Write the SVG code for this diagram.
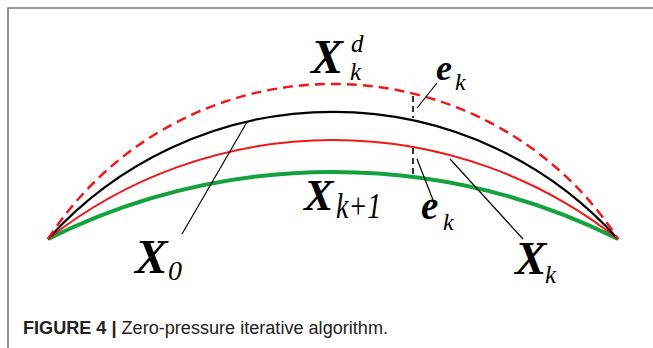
<svg xmlns="http://www.w3.org/2000/svg" width="653" height="348" viewBox="0 0 653 348">
<style>
.frame{stroke:#777;stroke-width:1.6;fill:none}
.curve{fill:none}
.lead{stroke:#000;stroke-width:1.2;fill:none}
.vdash{stroke:#000;stroke-width:1.6;stroke-dasharray:6 4;fill:none}
.bx{font-family:"Liberation Serif","Times New Roman",serif;font-weight:bold;font-style:italic;fill:#000}
.it{font-family:"Liberation Serif","Times New Roman",serif;font-style:italic;fill:#000}
.cap{font-family:"Liberation Sans",Arial,sans-serif;font-size:18px;fill:#222}
</style>
<rect width="653" height="348" fill="#fff"/>
<path class="frame" d="M8,348 V8 H653"/>
<g id="curves">
  <path id="green" class="curve" d="M48,239 A639.6,639.6 0 0 1 618,239" stroke="#13a23e" stroke-width="4"/>
  <path id="red" class="curve" d="M48,239 A459.7,459.7 0 0 1 618,239" stroke="#f01818" stroke-width="2"/>
  <path id="black" class="curve" d="M48,239 A383,383 0 0 1 618,239" stroke="#000" stroke-width="2.2"/>
  <path id="reddash" class="curve" d="M48,239 A339.5,339.5 0 0 1 618,239" stroke="#f01818" stroke-width="2.5" stroke-dasharray="10 6"/>
</g>
<g id="connectors">
  <path class="vdash" d="M413,96 V118"/>
  <path class="vdash" d="M413,148 V176"/>
  <path class="lead" d="M417,108 L437,83"/>
  <path class="lead" d="M417,159 L433,200"/>
  <path class="lead" d="M450,159 L523,239"/>
  <path class="lead" d="M247,122 L182,234"/>
</g>
<g id="label-xkd">
  <text class="bx" x="311" y="73" font-size="48">X</text>
  <text class="it" x="350" y="80" font-size="25">k</text>
  <text class="it" x="351" y="52" font-size="25">d</text>
</g>
<g id="label-ek-top">
  <text class="bx" x="436" y="80" font-size="36">e</text>
  <text class="it" x="455" y="90" font-size="24">k</text>
</g>
<g id="label-ek-bottom">
  <text class="bx" x="421" y="219" font-size="39">e</text>
  <text class="it" x="443" y="230" font-size="24">k</text>
</g>
<g id="label-xk1">
  <text class="bx" x="304" y="210" font-size="44">X</text>
  <text class="it" transform="translate(336,218) scale(1,1.3)" font-size="28">k+1</text>
</g>
<g id="label-x0">
  <text class="bx" x="135" y="273" font-size="49">X</text>
  <text class="it" x="168" y="280" font-size="28">0</text>
</g>
<g id="label-xk">
  <text class="bx" x="515" y="274" font-size="47">X</text>
  <text class="it" x="545" y="283" font-size="25">k</text>
</g>
<g id="caption">
  <text class="cap" x="23" y="334" textLength="365" lengthAdjust="spacingAndGlyphs"><tspan font-weight="bold">FIGURE 4 | </tspan>Zero-pressure iterative algorithm.</text>
</g>
</svg>
